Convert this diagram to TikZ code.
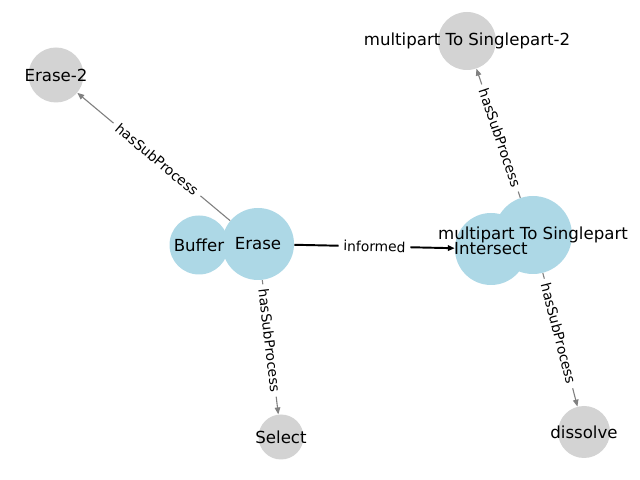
\documentclass[tikz,border=0pt]{standalone}
\usepackage{fontspec}
\setmainfont{DejaVu Sans}
\usetikzlibrary{arrows.meta, backgrounds}
\definecolor{NodeBlue}{HTML}{ADD8E6}
\definecolor{NodeGray}{HTML}{D3D3D3}
\definecolor{EdgeGray}{HTML}{808080}
\newlength{\px}
\setlength{\px}{0.01in}
\tikzset{
  procnode/.style={circle, fill=NodeBlue, inner sep=0pt, minimum size=#1\px},
  subnode/.style={circle, fill=NodeGray, inner sep=0pt, minimum size=#1\px},
  ntext/.style={font=\fontsize{12}{14}\selectfont, inner sep=0pt},
  subedge/.style={-{Triangle[length=5pt, width=4pt]}, draw=EdgeGray, line width=0.8pt},
  infedge/.style={-{Triangle[length=5pt, width=4pt]}, draw=black, line width=1.4pt},
  elabel/.style={font=\fontsize{10}{12}\selectfont, fill=white, rounded corners=2pt,
    inner sep=3.5pt, sloped, midway},
}

\begin{document}
\begin{tikzpicture}[x=1\px, y=-1\px]
  \useasboundingbox (0,0) rectangle (640,480);
  % gray sub-process nodes
  \node[subnode=55] (erase2) at (56,75) {};
  \node[subnode=58] (mpsingle2) at (467,41) {};
  \node[subnode=45] (select) at (281,437) {};
  \node[subnode=52] (dissolve) at (584,432) {};
  % blue process nodes
  \node[procnode=59] (buffer) at (199,245) {};
  \node[procnode=72] (erase) at (258,244) {};
  \node[procnode=72] (intersect) at (491,249) {};
  \node[procnode=78] (mpsingle) at (533,235) {};
  % node texts
  \node[ntext] (erase2-t) at (erase2) {Erase-2};
  \node[ntext] (mpsingle2-t) at (mpsingle2) {multipart To Singlepart-2};
  \node[ntext] (select-t) at (select) {Select};
  \node[ntext] (dissolve-t) at (dissolve) {dissolve};
  \node[ntext] (buffer-t) at (buffer) {Buffer};
  \node[ntext] (erase-t) at (erase) {Erase};
  \node[ntext] (intersect-t) at (intersect) {Intersect};
  \node[ntext] (mpsingle-t) at (mpsingle) {multipart To Singlepart};
  % edges, labels halfway between the centres
  \begin{scope}[on background layer]
    \draw[subedge] (erase) -- (erase2);
    \draw[subedge] (erase) -- (select);
    \draw[subedge] (mpsingle) -- (mpsingle2);
    \draw[subedge] (mpsingle) -- (dissolve);
    \draw[infedge] (erase) -- (intersect);
    \path (erase.center) -- node[elabel]{hasSubProcess} (erase2.center);
    \path (erase.center) -- node[elabel]{hasSubProcess} (select.center);
    \path (mpsingle.center) -- node[elabel]{hasSubProcess} (mpsingle2.center);
    \path (mpsingle.center) -- node[elabel]{hasSubProcess} (dissolve.center);
    \path (erase.center) -- node[elabel]{informed} (intersect.center);
  \end{scope}
\end{tikzpicture}
\end{document}
